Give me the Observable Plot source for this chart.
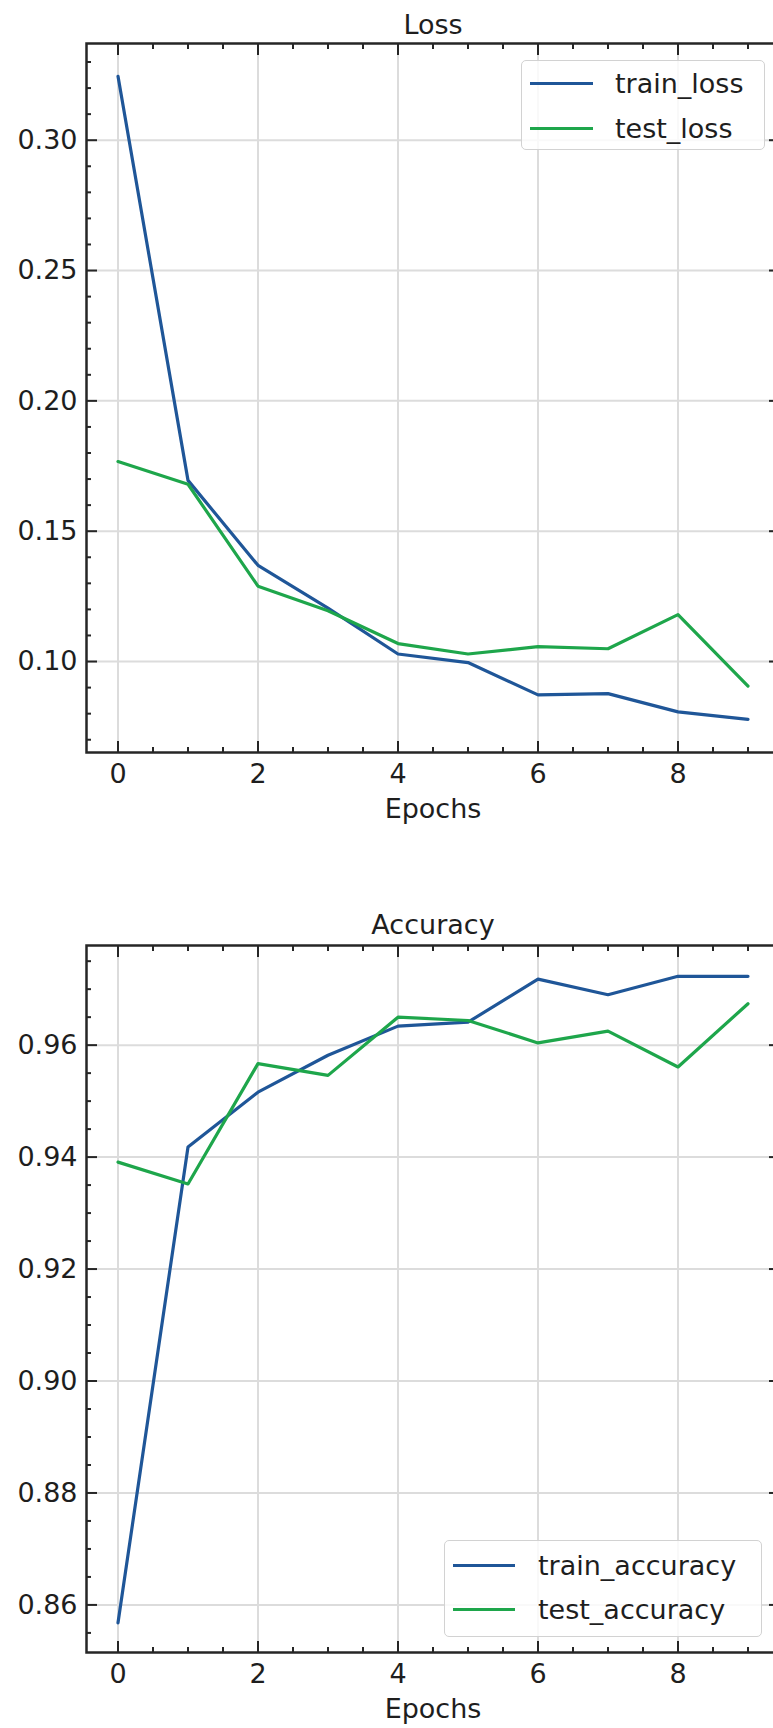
<!DOCTYPE html>
<html>
<head>
<meta charset="utf-8">
<script src="https://cdn.jsdelivr.net/npm/d3@7"></script>
<script src="https://cdn.jsdelivr.net/npm/@observablehq/plot@0.6"></script>
<style>
  html, body { margin: 0; padding: 0; background: #fff; overflow: hidden; }
  #wrap { position: relative; width: 773px; height: 1728px; }
  .panel { position: absolute; left: 0; }
  .panel svg { display: block; overflow: hidden; }
  .legend { position: absolute; box-sizing: border-box; border: 1.5px solid #d2d2d2; border-radius: 5px;
            background: rgba(255,255,255,0.82); font-family: "DejaVu Sans", sans-serif; font-size: 27px; color: #1e1e1e; }
  .legend .row { position: absolute; left: 0; height: 36px; display: flex; align-items: center; white-space: nowrap; }
  .legend .sw { height: 3px; }
</style>
</head>
<body>
<div id="wrap"></div>
<script>
// ---- data ----
const epochs = [0, 1, 2, 3, 4, 5, 6, 7, 8, 9];
const trainLoss = [0.3245, 0.1695, 0.1369, 0.1205, 0.1029, 0.0996, 0.0872, 0.0877, 0.0807, 0.0778];
const testLoss  = [0.1767, 0.1680, 0.1289, 0.1195, 0.1069, 0.1029, 0.1057, 0.1049, 0.1180, 0.0906];
const trainAcc  = [0.8568, 0.9418, 0.9516, 0.9582, 0.9634, 0.9641, 0.9718, 0.9690, 0.9723, 0.9723];
const testAcc   = [0.9391, 0.9352, 0.9567, 0.9546, 0.9650, 0.9644, 0.9604, 0.9625, 0.9561, 0.9674];

const xTicks = [0, 2, 4, 6, 8];
const xMinorTicks = [0.5, 1, 1.5, 2.5, 3, 3.5, 4.5, 5, 5.5, 6.5, 7, 7.5, 8.5, 9];
const lossTicks = [0.10, 0.15, 0.20, 0.25, 0.30];
const lossMinorTicks = [0.07, 0.08, 0.09, 0.11, 0.12, 0.13, 0.14, 0.16, 0.17, 0.18, 0.19, 0.21, 0.22, 0.23, 0.24, 0.26, 0.27, 0.28, 0.29, 0.31, 0.32, 0.33];
const accTicks = [0.86, 0.88, 0.90, 0.92, 0.94, 0.96];
const accMinorTicks = [0.855, 0.865, 0.87, 0.875, 0.885, 0.89, 0.895, 0.905, 0.91, 0.915, 0.925, 0.93, 0.935, 0.945, 0.95, 0.955, 0.965, 0.97, 0.975];

const lossSeries = ["train_loss", "test_loss"];
const accSeries = ["train_accuracy", "test_accuracy"];
const seriesColors = ["#1f5698", "#1ea64b"];

// ---- styles ----
const GRID = "#dcdcdc";
const SPINE = "#262626";
const TEXT = "#1e1e1e";
const FONT = "27px";

function panel({top, height, marginTop, marginBottom, title, titleDy, yDomain, yTicks, yMinor, names, train, test}) {
  const rows = [];
  epochs.forEach((e, i) => rows.push({epoch: e, value: train[i], series: names[0]}));
  epochs.forEach((e, i) => rows.push({epoch: e, value: test[i], series: names[1]}));
  const fmt = d3.format(".2f");
  const tickStroke = {stroke: SPINE, strokeWidth: 2, fill: "none", label: null};
  const svg = Plot.plot({
    width: 773,
    height,
    marginLeft: 86,
    marginRight: -6,
    marginTop,
    marginBottom,
    style: {fontFamily: "'DejaVu Sans', sans-serif", fontSize: FONT, color: TEXT, background: "#fff"},
    x: {domain: [-0.45, 9.45]},
    y: {domain: yDomain},
    color: {domain: names, range: seriesColors},
    marks: [
      Plot.gridX(xTicks, {stroke: GRID, strokeOpacity: 1, strokeWidth: 2}),
      Plot.gridY(yTicks, {stroke: GRID, strokeOpacity: 1, strokeWidth: 2}),
      Plot.line(rows, {x: "epoch", y: "value", z: "series", stroke: "series", strokeWidth: 3.2, strokeLinejoin: "round"}),
      Plot.frame({stroke: SPINE, strokeWidth: 2.5}),
      // inward major / minor ticks on all four sides
      Plot.axisX(xTicks, {anchor: "bottom", tickSize: 11, dy: -11, ...tickStroke}),
      Plot.axisX(xMinorTicks, {anchor: "bottom", tickSize: 5, dy: -5, ...tickStroke}),
      Plot.axisX(xTicks, {anchor: "top", tickSize: 11, dy: 11, ...tickStroke}),
      Plot.axisX(xMinorTicks, {anchor: "top", tickSize: 5, dy: 5, ...tickStroke}),
      Plot.axisY(yTicks, {anchor: "left", tickSize: 11, dx: 11, ...tickStroke}),
      Plot.axisY(yMinor, {anchor: "left", tickSize: 5, dx: 5, ...tickStroke}),
      Plot.axisY(yTicks, {anchor: "right", tickSize: 11, dx: -11, ...tickStroke}),
      Plot.axisY(yMinor, {anchor: "right", tickSize: 5, dx: -5, ...tickStroke}),
      // tick labels
      Plot.axisX(xTicks, {anchor: "bottom", tickSize: 0, tickPadding: 11, tickFormat: d => String(d), fill: TEXT, label: null}),
      Plot.axisY(yTicks, {anchor: "left", tickSize: 0, tickPadding: 9, tickFormat: fmt, fill: TEXT, label: null}),
      // axis label and title
      Plot.text(["Epochs"], {text: d => d, frameAnchor: "bottom", dy: 46, lineAnchor: "top", fill: TEXT}),
      Plot.text([title], {text: d => d, frameAnchor: "top", dy: titleDy, lineAnchor: "middle", fill: TEXT})
    ]
  });
  const div = document.createElement("div");
  div.className = "panel";
  div.style.top = top + "px";
  div.appendChild(svg);
  document.getElementById("wrap").appendChild(div);
}

function legend({left, top, width, height, rowCenters, swLeft, swWidth, textLeft, names}) {
  const box = document.createElement("div");
  box.className = "legend";
  Object.assign(box.style, {left: left + "px", top: top + "px", width: width + "px", height: height + "px"});
  names.forEach((name, i) => {
    const row = document.createElement("div");
    row.className = "row";
    row.style.top = (rowCenters[i] - 18) + "px";
    const sw = document.createElement("div");
    sw.className = "sw";
    Object.assign(sw.style, {marginLeft: swLeft + "px", width: swWidth + "px", background: seriesColors[i]});
    const tx = document.createElement("span");
    tx.textContent = name;
    tx.style.marginLeft = (textLeft - swLeft - swWidth) + "px";
    row.appendChild(sw);
    row.appendChild(tx);
    box.appendChild(row);
  });
  document.getElementById("wrap").appendChild(box);
}

panel({top: 0, height: 870, marginTop: 43, marginBottom: 118, title: "Loss", titleDy: -18,
       yDomain: [0.0651, 0.3371], yTicks: lossTicks, yMinor: lossMinorTicks,
       names: lossSeries, train: trainLoss, test: testLoss});
panel({top: 870, height: 858, marginTop: 75, marginBottom: 76, title: "Accuracy", titleDy: -20,
       yDomain: [0.8515, 0.9778], yTicks: accTicks, yMinor: accMinorTicks,
       names: accSeries, train: trainAcc, test: testAcc});

legend({left: 521, top: 60, width: 244, height: 90, rowCenters: [22, 67], swLeft: 8, swWidth: 63, textLeft: 93, names: lossSeries});
legend({left: 444, top: 1540, width: 318, height: 97, rowCenters: [24, 68], swLeft: 8, swWidth: 62, textLeft: 93, names: accSeries});
</script>
</body>
</html>
